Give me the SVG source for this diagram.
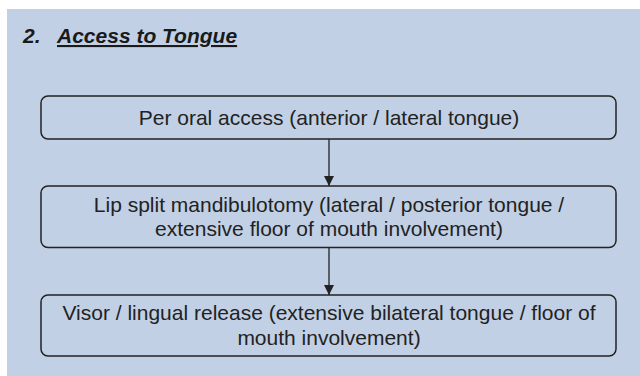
<svg xmlns="http://www.w3.org/2000/svg" width="640" height="376" viewBox="0 0 640 376">
<defs>
<style>
.box{fill:none;stroke:#222;stroke-width:1.5}
.t{font-family:"Liberation Sans",Arial,sans-serif;font-size:21px;fill:#222;text-anchor:middle}
.title{font-family:"Liberation Sans",Arial,sans-serif;font-size:21px;font-weight:bold;font-style:italic;fill:#1a1a1a}
.edge{stroke:#222;stroke-width:1.3;fill:none}
</style>
<marker id="ah" viewBox="0 0 10 10" refX="10" refY="5" markerWidth="10" markerHeight="10" markerUnits="userSpaceOnUse" orient="auto">
<path d="M0,0 L10,5 L0,10 Z" fill="#222"/>
</marker>
</defs>
<rect x="0" y="0" width="640" height="376" fill="#fff"/>
<rect x="7" y="9" width="633" height="367" fill="#c1d0e5"/>
<g id="title">
<text class="title" x="23" y="43">2.<tspan x="57" text-decoration="underline">Access to Tongue</tspan></text>
</g>
<g id="connectors">
<line class="edge" x1="329" y1="139" x2="329" y2="186" marker-end="url(#ah)"/>
<line class="edge" x1="329" y1="247.5" x2="329" y2="295" marker-end="url(#ah)"/>
</g>
<g id="node1">
<rect class="box" x="41" y="96" width="575" height="43" rx="7"/>
<text class="t" x="329" y="125">Per oral access (anterior / lateral tongue)</text>
</g>
<g id="node2">
<rect class="box" x="41" y="186" width="575" height="61.5" rx="7"/>
<text class="t" x="329" y="211.5">Lip split mandibulotomy (lateral / posterior tongue /</text>
<text class="t" x="329" y="236">extensive floor of mouth involvement)</text>
</g>
<g id="node3">
<rect class="box" x="41" y="295" width="575" height="61" rx="7"/>
<text class="t" x="329" y="320">Visor / lingual release (extensive bilateral tongue / floor of</text>
<text class="t" x="329" y="345">mouth involvement)</text>
</g>
</svg>
